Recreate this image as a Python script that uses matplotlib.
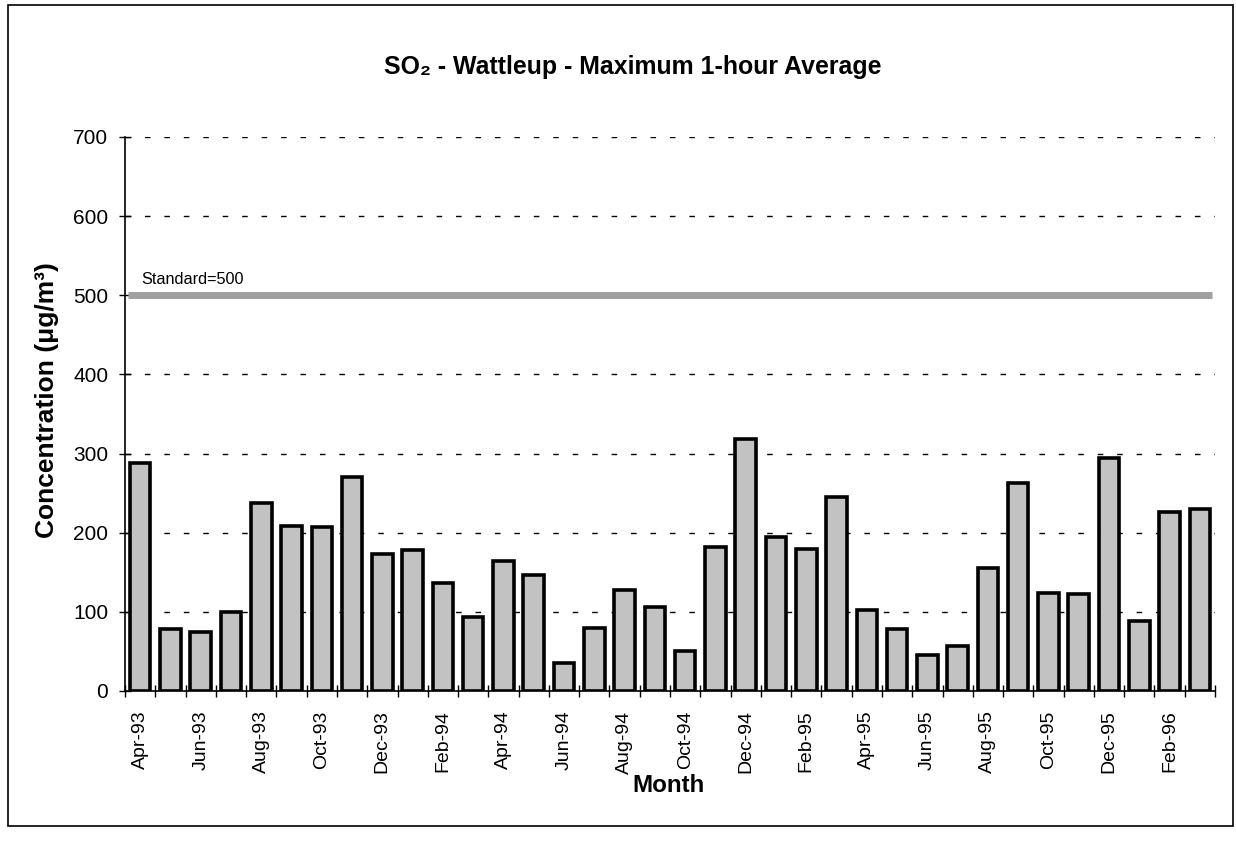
import matplotlib
matplotlib.use("Agg")
from matplotlib import pyplot as plt
from matplotlib.patches import Rectangle

plt.rcParams['font.family'] = ['Liberation Sans', 'DejaVu Sans']

# Meses (Apr-93 .. Mar-96)
meses = ['Apr-93', 'May-93', 'Jun-93', 'Jul-93', 'Aug-93', 'Sep-93', 'Oct-93', 'Nov-93',
         'Dec-93', 'Jan-94', 'Feb-94', 'Mar-94', 'Apr-94', 'May-94', 'Jun-94', 'Jul-94',
         'Aug-94', 'Sep-94', 'Oct-94', 'Nov-94', 'Dec-94', 'Jan-95', 'Feb-95', 'Mar-95',
         'Apr-95', 'May-95', 'Jun-95', 'Jul-95', 'Aug-95', 'Sep-95', 'Oct-95', 'Nov-95',
         'Dec-95', 'Jan-96', 'Feb-96', 'Mar-96']
# Maximo promedio de 1 hora (ug/m3)
so2_max = [288, 78, 75, 100, 237, 208, 207, 271, 173, 178, 136, 93,
           164, 147, 35, 80, 128, 106, 50, 182, 318, 194, 179, 245,
           102, 78, 46, 57, 155, 263, 124, 122, 294, 88, 226, 230]
estandar = 500
y_ticks = [0, 100, 200, 300, 400, 500, 600, 700]

fig = plt.figure(figsize=(12.36, 8.43), dpi=100)
W, H = 1236, 843
ax = fig.add_axes([125 / W, 1 - 691 / H, (1215 - 125) / W, (691 - 137) / H])

# Marco exterior
fig.patches.append(Rectangle((8 / W, 1 - 826 / H), (1233 - 8) / W, (826 - 5) / H,
                             transform=fig.transFigure, fill=False,
                             edgecolor='black', linewidth=1.2))

x = range(len(meses))

# Lineas de la rejilla
for v in y_ticks[1:]:
    if v == estandar:
        continue
    ax.axhline(v, color='black', linewidth=1.0, linestyle=(0, (4, 10)), zorder=1)

ax.bar(x, so2_max, width=0.68, color='#c2c2c2', edgecolor='black', linewidth=2.6, zorder=2)

# Linea del estandar
ax.plot([-0.4, len(meses) - 0.6], [estandar, estandar], color='#a0a0a0',
        linewidth=5, solid_capstyle='butt', zorder=3)
ax.text(0.05, estandar + 10, 'Standard=500', fontsize=11.7, ha='left', va='bottom')

ax.set_xlim(-0.5, len(meses) - 0.5)
ax.set_ylim(0, 700)
ax.set_yticks(y_ticks)
ax.tick_params(axis='y', labelsize=15, direction='inout', length=8, width=1, pad=8)

ax.set_xticks(list(x)[::2])
ax.set_xticklabels(meses[::2], rotation=90, fontsize=14)
ax.set_xticks([i - 0.5 for i in range(len(meses) + 1)], minor=True)
ax.tick_params(axis='x', which='major', length=0, pad=14)
ax.tick_params(axis='x', which='minor', direction='inout', length=8, width=1)

for s in ['top', 'right']:
    ax.spines[s].set_visible(False)
ax.spines['left'].set_linewidth(1.2)
ax.spines['bottom'].set_linewidth(1.2)

fig.text(669 / W, 1 - 785 / H, 'Month', fontsize=17.4, fontweight='bold',
         ha='center', va='center')
fig.text(47 / W, 1 - 400 / H, 'Concentration (\u03bcg/m\u00b3)', fontsize=19,
         fontweight='bold', rotation=90, ha='center', va='center')
fig.text(633 / W, 1 - 67 / H, 'SO\u2082 - Wattleup - Maximum 1-hour Average',
         fontsize=17.9, fontweight='bold', ha='center', va='center')

plt.savefig('out.png', dpi=100)
